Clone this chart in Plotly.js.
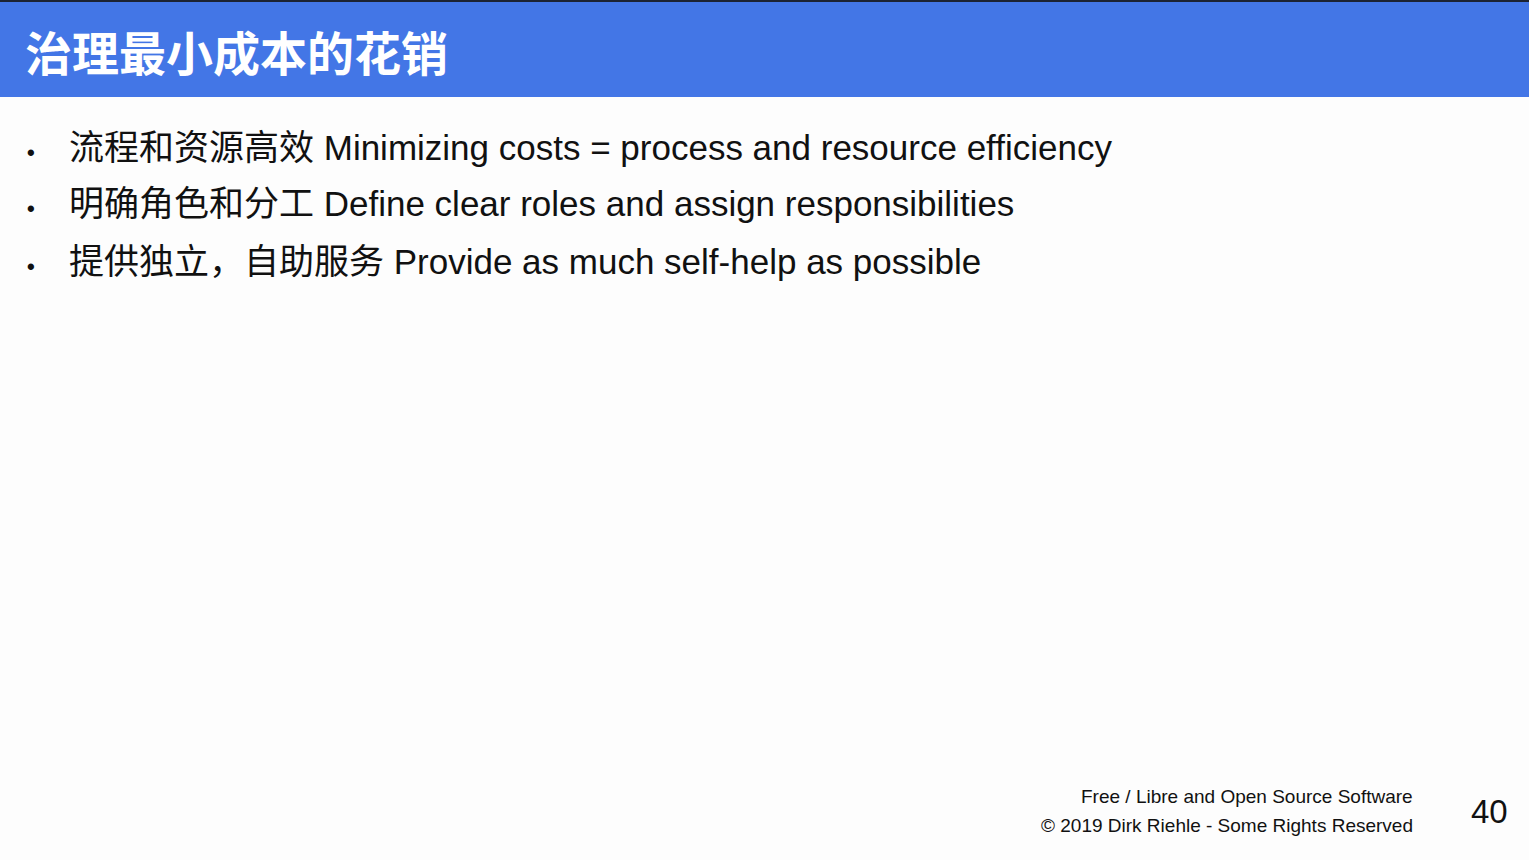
<!DOCTYPE html>
<html>
<head>
<meta charset="utf-8">
<script src="https://cdn.plot.ly/plotly-3.0.1.min.js"></script>
<style>html,body{margin:0;padding:0;background:#fdfdfd;}#chart{width:1529px;height:860px;}</style>
</head>
<body>
<div id="chart"></div>
<script>
const slideTitle = "治理最小成本的花销";
const bulletItems = [
  "流程和资源高效 Minimizing costs = process and resource efficiency",
  "明确角色和分工 Define clear roles and assign responsibilities",
  "提供独立，自助服务 Provide as much self-help as possible"
];
const footerLines = [
  "Free / Libre and Open Source Software",
  "© 2019 Dirk Riehle - Some Rights Reserved"
];
const pageNumber = "40";

const W = 1529, H = 860;
const FONT = "Liberation Sans, Arial, 'Noto Sans CJK SC', sans-serif";
const annotations = [];

annotations.push({
  x: 23, y: 50, xref: 'x', yref: 'y', xanchor: 'left', yanchor: 'middle',
  text: '<b>' + slideTitle + '</b>', showarrow: false,
  font: {family: "'Noto Sans CJK SC', sans-serif", size: 47, color: '#ffffff'}
});

const bulletY = [147, 203, 261];
bulletItems.forEach((t, i) => {
  annotations.push({
    x: 31, y: bulletY[i] + 5, xref: 'x', yref: 'y', xanchor: 'center', yanchor: 'middle',
    text: '<b>•</b>', showarrow: false, font: {family: FONT, size: 22, color: '#111111'}
  });
  annotations.push({
    x: 67, y: bulletY[i], xref: 'x', yref: 'y', xanchor: 'left', yanchor: 'middle',
    text: t, showarrow: false, font: {family: FONT, size: 35, color: '#111111'}
  });
});

const footY = [796, 825];
footerLines.forEach((t, i) => {
  annotations.push({
    x: 1415, y: footY[i], xref: 'x', yref: 'y', xanchor: 'right', yanchor: 'middle',
    text: t, showarrow: false, font: {family: FONT, size: 19, color: '#111111'}
  });
});
annotations.push({
  x: 1489, y: 811, xref: 'x', yref: 'y', xanchor: 'center', yanchor: 'middle',
  text: pageNumber, showarrow: false, font: {family: FONT, size: 33, color: '#111111'}
});

const layout = {
  width: W, height: H,
  margin: {l: 0, r: 0, t: 0, b: 0, pad: 0},
  paper_bgcolor: '#fdfdfd', plot_bgcolor: '#fdfdfd',
  xaxis: {range: [0, W], visible: false, fixedrange: true},
  yaxis: {range: [H, 0], visible: false, fixedrange: true},
  showlegend: false,
  shapes: [
    {type: 'rect', xref: 'x', yref: 'y', x0: 0, x1: W, y0: 0, y1: 97, fillcolor: '#4376e6', line: {width: 0}, layer: 'below'},
    {type: 'rect', xref: 'x', yref: 'y', x0: 0, x1: W, y0: 0, y1: 2, fillcolor: '#1c2333', line: {width: 0}, layer: 'below'}
  ],
  annotations: annotations
};

Plotly.newPlot('chart', [], layout, {displayModeBar: false, staticPlot: true});
</script>
</body>
</html>
